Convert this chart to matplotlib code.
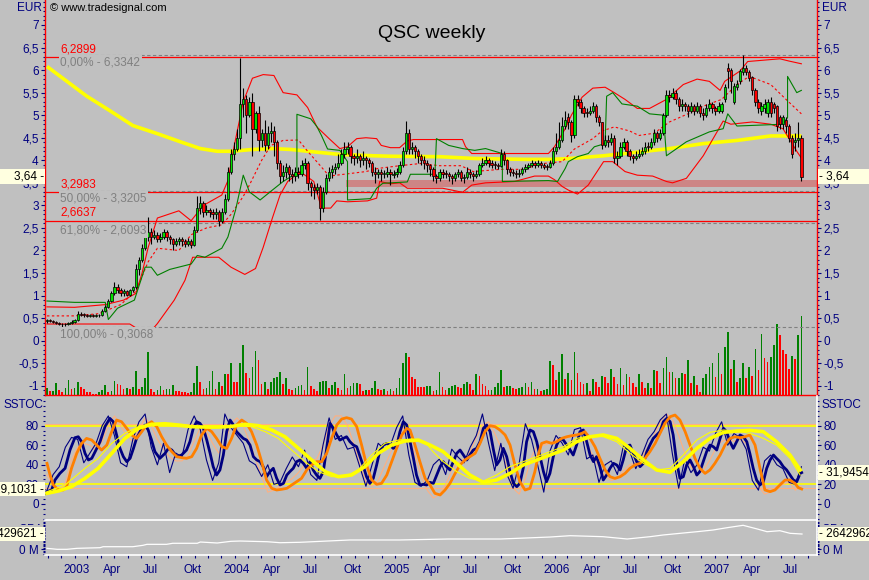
import matplotlib
matplotlib.use("Agg")
import matplotlib.pyplot as plt
import matplotlib.transforms as mtransforms
from matplotlib.ticker import FixedLocator, FuncFormatter
import numpy as np
import pandas as pd

plt.rcParams['font.family'] = ['Liberation Sans', 'DejaVu Sans']

# ---------------- Daten (Wochenkerzen QSC, ab 29.11.2002) ----------------
first_week = '2002-11-29'

opens = [0.43, 0.45, 0.44, 0.42, 0.40, 0.38, 0.36, 0.37, 0.40, 0.42,
         0.45, 0.60, 0.58, 0.57, 0.55, 0.56, 0.55, 0.57, 0.56, 0.66,
         0.75, 0.88, 1.05, 1.20, 1.12, 1.05, 1.10, 1.02, 1.12, 1.18,
         1.60, 1.80, 2.05, 2.30, 2.40, 2.30, 2.35, 2.25, 2.30, 2.40,
         2.30, 2.25, 2.15, 2.20, 2.25, 2.20, 2.15, 2.22, 2.12, 2.45,
         2.95, 3.05, 2.85, 2.90, 2.85, 2.80, 2.85, 2.65, 2.85, 3.15,
         3.75, 4.15, 4.25, 4.50, 5.25, 5.35, 5.00, 5.30, 4.70, 5.05,
         4.45, 4.60, 4.35, 4.60, 4.65, 4.40, 3.95, 3.65, 3.75, 3.85,
         3.70, 3.65, 3.75, 3.70, 3.90, 3.95, 3.50, 3.40, 3.35, 3.40,
         2.95, 3.30, 3.60, 3.75, 3.80, 3.85, 3.95, 4.15, 4.25, 4.30,
         4.10, 4.05, 4.10, 4.00, 4.05, 4.00, 3.95, 3.75, 3.70, 3.75,
         3.70, 3.70, 3.75, 3.68, 3.70, 3.75, 3.90, 4.20, 4.60, 4.25,
         4.30, 4.20, 4.10, 4.00, 3.95, 3.90, 3.80, 3.65, 3.60, 3.75,
         3.72, 3.70, 3.65, 3.60, 3.70, 3.75, 3.60, 3.62, 3.75, 3.70,
         3.65, 3.70, 3.90, 3.95, 4.00, 3.95, 3.92, 3.90, 3.88, 4.15,
         4.00, 3.80, 3.75, 3.72, 3.70, 3.72, 3.80, 3.85, 3.90, 3.95,
         3.90, 3.95, 3.90, 3.87, 3.85, 3.95, 4.20, 4.30, 4.45, 4.75,
         4.95, 4.85, 4.55, 5.35, 5.30, 5.15, 5.07, 5.05, 5.10, 5.20,
         4.95, 4.85, 4.35, 4.45, 4.40, 4.50, 4.05, 4.10, 4.30, 4.40,
         4.20, 4.10, 4.05, 4.10, 4.15, 4.20, 4.32, 4.30, 4.40, 4.60,
         4.50, 4.60, 5.00, 5.45, 5.40, 5.50, 5.35, 5.20, 5.25, 5.20,
         5.10, 5.20, 5.10, 5.20, 5.05, 5.00, 5.15, 5.25, 5.15, 5.10,
         5.10, 5.35, 6.05, 6.00, 5.30, 5.62, 5.75, 5.95, 6.05, 5.95,
         5.85, 5.55, 5.30, 5.10, 5.15, 5.05, 5.30, 5.25, 5.20, 4.95,
         4.80, 4.90, 4.75, 4.50, 4.40, 4.45, 4.50]

highs = [0.49, 0.47, 0.46, 0.44, 0.42, 0.40, 0.40, 0.42, 0.45, 0.48,
         0.66, 0.63, 0.61, 0.60, 0.59, 0.59, 0.60, 0.60, 0.70, 0.80,
         0.93, 1.10, 1.30, 1.25, 1.16, 1.15, 1.12, 1.15, 1.22, 1.70,
         1.85, 2.15, 2.40, 2.75, 2.50, 2.45, 2.40, 2.38, 2.48, 2.45,
         2.35, 2.28, 2.28, 2.30, 2.30, 2.25, 2.28, 2.25, 2.55, 3.20,
         3.20, 3.10, 3.00, 2.95, 2.92, 2.95, 2.90, 2.95, 3.25, 3.85,
         4.25, 4.40, 4.70, 6.27, 5.60, 5.45, 5.40, 5.50, 5.10, 5.20,
         4.70, 4.90, 4.75, 4.85, 4.75, 4.45, 4.00, 3.90, 3.95, 3.90,
         3.80, 3.85, 3.85, 4.00, 4.05, 3.98, 3.55, 3.48, 3.50, 3.45,
         3.40, 3.70, 3.85, 3.90, 3.95, 4.15, 4.25, 4.40, 4.40, 4.35,
         4.15, 4.25, 4.15, 4.20, 4.10, 4.05, 3.98, 3.85, 3.80, 3.80,
         3.78, 3.85, 3.80, 3.78, 3.82, 3.98, 4.30, 4.87, 4.70, 4.40,
         4.35, 4.25, 4.15, 4.10, 4.00, 3.92, 3.85, 3.70, 3.80, 3.80,
         3.78, 3.75, 3.70, 3.75, 3.80, 3.78, 3.70, 3.85, 3.80, 3.75,
         3.78, 3.95, 4.05, 4.10, 4.05, 4.00, 3.98, 3.95, 4.25, 4.20,
         4.02, 3.85, 3.80, 3.78, 3.80, 3.85, 3.92, 3.95, 4.00, 3.98,
         4.00, 3.98, 3.95, 3.92, 4.00, 4.30, 4.60, 4.85, 4.95, 5.10,
         5.05, 4.90, 5.45, 5.45, 5.35, 5.20, 5.15, 5.20, 5.30, 5.25,
         5.00, 4.85, 4.55, 4.55, 4.60, 4.55, 4.20, 4.40, 4.50, 4.45,
         4.25, 4.15, 4.20, 4.25, 4.30, 4.40, 4.40, 4.50, 4.70, 4.65,
         4.70, 5.05, 5.55, 5.55, 5.60, 5.55, 5.40, 5.35, 5.30, 5.25,
         5.30, 5.25, 5.30, 5.25, 5.15, 5.25, 5.35, 5.30, 5.20, 5.30,
         5.30, 5.70, 6.15, 6.05, 5.72, 5.78, 6.02, 6.33, 6.12, 6.00,
         5.88, 5.60, 5.35, 5.30, 5.35, 5.35, 5.40, 5.30, 5.22, 5.00,
         5.00, 4.95, 4.80, 4.55, 4.60, 4.85, 4.55]

lows = [0.40, 0.41, 0.39, 0.37, 0.35, 0.31, 0.33, 0.35, 0.38, 0.40,
        0.44, 0.55, 0.53, 0.52, 0.52, 0.52, 0.53, 0.53, 0.55, 0.64,
        0.72, 0.85, 1.02, 1.05, 0.98, 1.00, 0.98, 1.00, 1.08, 1.15,
        1.45, 1.75, 2.00, 2.20, 2.15, 2.25, 2.18, 2.18, 2.25, 2.20,
        2.15, 2.00, 2.10, 2.12, 2.10, 2.08, 2.10, 2.05, 2.10, 2.40,
        2.80, 2.75, 2.78, 2.75, 2.70, 2.70, 2.55, 2.60, 2.80, 3.10,
        3.70, 4.00, 4.20, 4.25, 4.95, 4.60, 4.95, 4.10, 4.60, 4.20,
        4.30, 4.20, 4.25, 4.40, 4.10, 3.80, 3.50, 3.55, 3.60, 3.55,
        3.50, 3.55, 3.60, 3.65, 3.80, 3.35, 3.20, 3.15, 3.25, 2.68,
        2.85, 3.25, 3.55, 3.60, 3.70, 3.80, 3.90, 4.05, 4.15, 3.95,
        3.90, 3.95, 3.85, 3.90, 3.80, 3.85, 3.65, 3.50, 3.60, 3.55,
        3.60, 3.62, 3.45, 3.60, 3.62, 3.70, 3.85, 4.15, 4.15, 4.15,
        4.05, 3.95, 3.90, 3.80, 3.75, 3.65, 3.55, 3.50, 3.55, 3.60,
        3.60, 3.55, 3.48, 3.55, 3.62, 3.55, 3.50, 3.58, 3.60, 3.55,
        3.60, 3.65, 3.85, 3.90, 3.85, 3.82, 3.80, 3.80, 3.85, 3.90,
        3.70, 3.65, 3.65, 3.60, 3.62, 3.68, 3.75, 3.80, 3.85, 3.82,
        3.85, 3.82, 3.80, 3.78, 3.82, 3.90, 4.15, 4.25, 4.40, 4.70,
        4.70, 4.40, 4.50, 5.20, 5.05, 4.95, 4.95, 5.00, 5.05, 4.85,
        4.75, 4.25, 4.30, 4.30, 4.35, 3.95, 3.90, 4.05, 4.25, 4.10,
        4.00, 3.95, 4.00, 4.05, 4.10, 4.15, 4.20, 4.25, 4.35, 4.40,
        4.45, 4.55, 4.95, 5.30, 5.35, 5.25, 5.10, 5.10, 5.10, 4.95,
        5.05, 5.00, 5.05, 4.95, 4.90, 4.95, 5.10, 5.05, 5.00, 5.05,
        5.05, 5.30, 5.60, 5.50, 5.25, 5.55, 5.70, 5.90, 5.90, 5.75,
        5.45, 5.20, 5.05, 5.00, 5.05, 4.95, 4.95, 5.05, 4.65, 4.70,
        4.70, 4.60, 4.40, 4.05, 4.20, 4.30, 3.53]

closes = [0.45, 0.44, 0.42, 0.40, 0.38, 0.36, 0.37, 0.40, 0.42, 0.45,
          0.60, 0.58, 0.57, 0.55, 0.56, 0.55, 0.57, 0.56, 0.66, 0.75,
          0.88, 1.05, 1.20, 1.12, 1.05, 1.10, 1.02, 1.12, 1.18, 1.60,
          1.80, 2.05, 2.30, 2.40, 2.30, 2.35, 2.25, 2.30, 2.40, 2.30,
          2.25, 2.15, 2.20, 2.25, 2.20, 2.15, 2.22, 2.12, 2.45, 2.95,
          3.05, 2.85, 2.90, 2.85, 2.80, 2.85, 2.65, 2.85, 3.15, 3.75,
          4.15, 4.25, 4.50, 5.25, 5.35, 5.00, 5.30, 4.70, 5.05, 4.45,
          4.60, 4.35, 4.60, 4.65, 4.40, 3.95, 3.65, 3.75, 3.85, 3.70,
          3.65, 3.75, 3.70, 3.90, 3.95, 3.50, 3.40, 3.35, 3.40, 2.95,
          3.30, 3.60, 3.75, 3.80, 3.85, 3.95, 4.15, 4.25, 4.30, 4.10,
          4.05, 4.10, 4.00, 4.05, 4.00, 3.95, 3.75, 3.70, 3.75, 3.70,
          3.70, 3.75, 3.70, 3.70, 3.75, 3.90, 4.20, 4.60, 4.25, 4.30,
          4.20, 4.10, 4.00, 3.95, 3.90, 3.80, 3.65, 3.60, 3.75, 3.70,
          3.70, 3.65, 3.60, 3.70, 3.75, 3.60, 3.62, 3.75, 3.70, 3.65,
          3.70, 3.90, 3.95, 4.00, 3.95, 3.90, 3.90, 3.88, 4.15, 4.00,
          3.80, 3.75, 3.72, 3.70, 3.72, 3.80, 3.85, 3.90, 3.95, 3.90,
          3.95, 3.90, 3.85, 3.85, 3.95, 4.20, 4.30, 4.45, 4.75, 4.90,
          4.85, 4.55, 5.35, 5.30, 5.15, 5.05, 5.05, 5.10, 5.20, 4.95,
          4.85, 4.35, 4.45, 4.40, 4.50, 4.05, 4.10, 4.30, 4.40, 4.20,
          4.10, 4.05, 4.10, 4.15, 4.20, 4.30, 4.30, 4.40, 4.60, 4.50,
          4.60, 5.00, 5.45, 5.40, 5.50, 5.35, 5.20, 5.25, 5.20, 5.10,
          5.20, 5.10, 5.20, 5.05, 5.00, 5.15, 5.25, 5.15, 5.10, 5.20,
          5.25, 5.62, 5.97, 5.75, 5.65, 5.70, 5.97, 6.05, 5.95, 5.82,
          5.55, 5.30, 5.15, 5.20, 5.25, 5.30, 5.05, 5.15, 4.75, 4.80,
          4.95, 4.75, 4.50, 4.15, 4.45, 4.50, 3.64]

# Wochenumsatz (Mio. Stueck)
volumes = [2.1, 1.2, 1.3, 3.7, 1.5, 1.0, 2.1, 4.6, 1.8, 2.0,
           4.0, 2.5, 1.8, 1.0, 0.8, 0.4, 0.3, 1.0, 1.4, 3.1,
           1.0, 1.2, 4.3, 3.2, 3.0, 1.7, 2.0, 1.7, 2.3, 7.3,
           1.7, 2.3, 5.2, 13.0, 1.9, 1.0, 1.6, 2.8, 1.5, 1.7,
           1.7, 3.1, 1.3, 1.1, 1.0, 0.8, 0.7, 0.8, 3.7, 8.8,
           4.0, 1.7, 2.1, 4.1, 7.2, 1.9, 4.0, 2.7, 6.3, 6.2,
           9.5, 4.0, 3.8, 9.5, 15.1, 6.5, 5.0, 8.4, 13.2, 10.6,
           3.3, 4.0, 1.7, 4.0, 5.2, 5.5, 7.0, 3.3, 5.0, 1.7,
           1.5, 2.0, 2.8, 3.0, 1.4, 8.5, 2.7, 1.8, 1.3, 4.0,
           4.1, 4.2, 2.0, 3.0, 4.0, 2.0, 1.4, 6.2, 2.2, 2.8,
           3.5, 3.6, 3.4, 1.3, 1.5, 1.4, 2.0, 4.2, 1.8, 1.4,
           1.8, 1.3, 1.8, 1.3, 2.0, 5.0, 9.5, 12.7, 11.5, 5.4,
           4.8, 2.5, 2.4, 2.3, 2.8,
           2.8, 1.3, 1.6, 7.0, 2.5, 1.6, 2.2, 2.8, 3.1, 2.5,
           2.2, 3.4, 4.0, 3.4, 1.6, 6.4, 5.8, 3.4, 2.8, 1.6,
           1.6, 2.5, 3.7, 7.6, 2.5, 2.8, 2.8, 2.2, 1.9, 2.2,
           2.5, 3.7, 2.5, 4.0, 1.9, 1.9, 1.3, 1.6, 1.9, 10.3,
           9.1, 4.6, 7.0, 12.4, 4.9, 6.7, 4.6, 13.0, 6.7, 4.0,
           3.4, 3.7, 1.3, 4.9, 4.0, 2.5, 5.8, 5.5, 3.7, 7.9,
           5.5, 3.4, 8.2, 3.1, 6.4, 5.5, 3.7, 2.5, 6.4, 4.0,
           2.2, 3.7, 2.2, 7.6, 7.3, 3.7, 8.2, 11.5, 7.0, 7.0,
           5.2, 5.2, 6.7, 6.4, 10.6, 3.7, 5.8, 3.1, 1.0, 5.2,
           6.4, 8.5, 9.7, 5.5, 12.7, 6.4, 14.5, 19.0, 7.9, 10.6,
           4.0, 5.2, 9.7, 5.2, 8.5, 5.8, 13.9, 7.6, 18.4, 11.2,
           10.0, 11.5, 15.1, 21.4, 18.1, 13.6, 12.4, 7.9, 11.8, 10.9,
           18.1, 23.8]

# Bollinger-Baender (Woche, EUR)
bb_upper = [(0, 0.75), (9, 0.74), (19, 0.80), (25, 0.90), (29, 1.05), (31, 1.50),
            (33, 2.07), (36, 2.72), (43, 2.88), (47, 2.66), (51, 3.00), (57, 3.23),
            (59, 3.55), (61, 4.30), (64, 5.30), (67, 5.82), (70.5, 5.90), (74, 5.88),
            (77, 5.50), (81.5, 5.45), (85, 5.17), (88, 4.74), (92, 4.48), (95.5, 4.26),
            (98, 4.30), (101, 4.48), (104, 4.50), (107.5, 4.48), (109, 4.33), (112, 4.28),
            (115, 4.28), (117.5, 4.43), (119.5, 4.46), (135.5, 4.46), (136.5, 4.30),
            (138.5, 4.15), (163.5, 4.15), (165.5, 4.30), (169, 4.70), (171, 5.00),
            (174.5, 5.40), (178, 5.60), (182, 5.62), (185, 5.50), (188.5, 5.35),
            (192.5, 5.15), (196.5, 5.15), (202, 5.35), (207.5, 5.68), (212, 5.80),
            (216, 5.75), (219.5, 5.55), (221, 5.75), (226, 5.98), (228.5, 6.19),
            (239, 6.25), (242, 6.20), (246, 6.14)]
bb_middle = [(0, 0.55), (9, 0.55), (17, 0.60), (24, 0.80), (29, 1.10), (33, 1.75),
             (36, 2.05), (43, 2.00), (47, 2.35), (52, 2.50), (57, 2.57), (60, 2.80),
             (64, 3.20), (66, 3.45), (70, 4.00), (73, 4.33), (77, 4.44), (82, 4.45),
             (85, 4.20), (89, 3.89), (92, 3.65), (98, 3.70), (104, 3.75), (108, 3.82),
             (115, 3.88), (122, 3.93), (128, 3.88), (135, 3.88), (139, 3.75), (148, 3.80),
             (155, 3.80), (162, 3.93), (168, 3.97), (172, 4.25), (178, 4.48), (181, 4.65),
             (185, 4.74), (190, 4.65), (193, 4.55), (198, 4.60), (203, 4.85), (209, 5.03),
             (214, 5.20), (220, 5.35), (225, 5.68), (229, 5.86), (236, 5.68), (241, 5.35),
             (246, 5.03)]
bb_lower = [(0, 0.37), (17, 0.37), (27, 0.37), (31, 0.20), (34, 0.22), (36, 0.38),
            (41.5, 0.90), (45, 1.34), (47.5, 1.85), (50.5, 1.85), (56, 1.85), (60, 1.63),
            (64.5, 1.47), (68, 1.60), (70.5, 2.07), (73.5, 2.72), (76, 3.23), (78.5, 3.53),
            (82.5, 3.75), (87, 3.53), (89.5, 2.94), (92.5, 2.94), (94.5, 3.10), (98, 3.08),
            (104.5, 3.10), (107.5, 3.16), (108.5, 3.53), (112, 3.48), (115, 3.50),
            (117.5, 3.38), (125, 3.38), (129, 3.38), (132, 3.34), (135.5, 3.29),
            (138.5, 3.45), (143, 3.50), (152.5, 3.53), (159, 3.65), (163.5, 3.65),
            (165.5, 3.57), (168, 3.42), (170, 3.34), (173, 3.25), (176.5, 3.45),
            (181.5, 3.97), (184.5, 3.97), (188.5, 3.75), (192.5, 3.67), (197.5, 3.65),
            (202, 3.53), (204, 3.50), (208.5, 3.60), (214, 4.10), (218.5, 4.63),
            (220.5, 4.87), (223, 4.80), (230, 4.85), (236, 4.80), (240, 4.70),
            (242, 4.48), (244.5, 4.20), (246, 4.05)]

# gruene Stop-Linie (Woche, EUR)
stop_line = [(0, 0.88), (9, 0.85), (19, 0.85), (20, 0.47), (23, 0.72), (28.5, 0.90),
             (32, 1.63), (34, 1.63), (36, 1.45), (40, 1.58), (47, 1.70), (49, 1.89),
             (51.5, 1.85), (57, 2.05), (59, 2.30), (61.5, 2.90), (64, 3.67), (66, 3.30),
             (69.5, 3.12), (73.5, 3.34), (77, 3.53), (81.5, 3.72), (81.5, 5.02),
             (86, 4.92), (88, 4.75), (89.5, 4.55), (91.5, 4.25), (95.5, 4.22),
             (98, 3.97), (98, 3.12), (105.5, 3.15), (107.5, 3.38), (109.5, 3.49),
             (117.5, 3.52), (118.5, 3.69), (126.5, 3.69), (127, 4.48), (131, 4.33),
             (135.5, 4.26), (139.5, 4.22), (143, 4.26), (148.5, 4.15), (148.5, 3.53),
             (163.5, 3.55), (166.5, 3.53), (169, 3.82), (170, 3.97), (173, 4.08),
             (176.5, 4.15), (178.5, 4.30), (182, 4.37), (182.5, 5.42), (184.5, 5.50),
             (187.5, 5.25), (192.5, 5.20), (196.5, 5.03), (201, 5.00), (202, 4.10),
             (208.5, 4.41), (216, 4.63), (220.5, 4.70), (222, 5.03), (225, 4.76),
             (240, 4.80), (241.5, 4.95), (241.5, 5.86), (244.5, 5.50), (246, 5.55)]

# gleitender Durchschnitt, lang (Woche, EUR)
ma_long = [(0, 6.08), (6.5, 5.75), (13, 5.42), (20.5, 5.10), (28, 4.77), (36, 4.59),
           (43.5, 4.41), (50, 4.26), (55.5, 4.20), (60.5, 4.20), (67, 4.24), (73.5, 4.26),
           (79.5, 4.24), (85, 4.20), (95.5, 4.13), (106.5, 4.10), (112, 4.09),
           (128, 4.08), (139.5, 4.04), (156, 4.02), (164.5, 4.02), (170.5, 4.04),
           (181.5, 4.10), (192.5, 4.18), (203, 4.26), (214, 4.37), (225, 4.44),
           (236, 4.54), (246, 4.54)]

# Kursmarken
red_levels = [6.2899, 3.2983, 2.6637]
fib_levels = [6.3342, 3.3205, 2.6093, 0.3068]
fib_names = ['0,00%', '50,00%', '61,80%', '100,00%']
zone_start_week = 97.5
zone_low, zone_high = 3.40, 3.56
last_price = 3.64

# Slow Stochastik (Woche, Wert)
stoch_k = [(0, 12.5), (1.5, 14.2), (2.6, 24.4), (4.2, 31.2), (5.9, 36.4), (7.5, 55.1),
           (9.1, 67.7), (10.2, 68.7), (11.3, 63.6), (12.4, 51.7), (13.5, 44.9), (14.6, 46.6),
           (15.7, 53.4), (17.3, 63.6), (18.9, 79.0), (20.5, 87.5), (21.6, 84.1), (22.7, 70.5),
           (23.8, 56.8), (24.9, 48.3), (26, 43.2), (27.1, 46.6), (28.2, 56.8), (29.2, 67.0),
           (30.9, 77.3), (32, 80.7), (33, 75.6), (34.1, 65.3), (35.2, 53.4), (36.8, 46.6),
           (38.5, 51.7), (39.6, 56.8), (40.7, 55.1), (42.3, 48.3), (43.9, 50.0), (45.5, 55.1),
           (46.6, 63.6), (47.7, 77.3), (48.8, 84.1), (49.9, 82.4), (51, 77.3), (52.1, 65.3),
           (53.2, 51.7), (54.2, 38.1), (55.3, 29.5), (56.4, 34.7), (57.5, 50.0), (58.6, 73.9),
           (59.7, 85.8), (60.8, 80.7), (61.8, 73.9), (62.9, 70.5), (64, 67.0), (65.1, 65.3),
           (66.2, 60.2), (67.3, 48.3), (68.4, 44.9), (69.5, 43.2), (70.5, 38.1), (71.6, 27.8),
           (72.7, 33.0), (73.8, 36.4), (74.9, 26.1), (76, 19.3), (77.1, 21.0), (78.2, 29.5),
           (79.2, 33.0), (80.3, 36.4), (81.4, 43.2), (82.5, 44.9), (83.6, 41.5), (84.7, 36.4),
           (85.8, 43.2), (86.8, 34.7), (87.9, 29.5), (89, 26.1), (90.1, 33.0), (91.2, 56.8),
           (92.3, 82.4), (93.4, 77.3), (94.5, 70.5), (95.5, 65.3), (96.6, 67.0), (97.7, 68.7),
           (98.8, 63.6), (99.9, 60.2), (101, 58.5), (102.1, 48.3), (103.2, 38.1), (104.2, 27.8),
           (105.3, 21.0), (106.4, 26.1), (107.5, 39.8), (108.6, 55.1), (109.7, 60.2),
           (110.8, 61.9), (111.8, 60.2), (112.9, 56.8), (114, 58.5), (115.1, 73.9),
           (116.2, 84.1), (117.3, 80.7), (118.4, 63.6), (119.5, 46.6), (120.5, 29.5),
           (121.6, 19.3), (122.7, 20.0), (123.8, 19.3), (124.9, 22.0), (126, 21.0),
           (127.1, 29.5), (128.2, 38.1), (129.2, 43.2), (130.3, 38.1), (131.4, 34.7),
           (132.5, 43.2), (133.6, 51.7), (134.7, 55.1), (135.8, 50.0), (136.9, 44.9),
           (137.9, 50.0), (139, 55.1), (140.1, 56.8), (141.2, 63.6), (142.3, 77.3),
           (143.4, 80.7), (144.5, 73.9), (145.6, 55.1), (146.6, 39.8), (147.7, 44.9),
           (148.8, 56.8), (149.9, 48.3), (151, 33.0), (152.1, 21.0), (153.2, 17.6),
           (154.2, 21.0), (155.3, 36.4), (156.4, 63.6), (157.5, 75.6), (158.6, 73.9),
           (159.7, 63.6), (160.8, 48.3), (161.9, 33.0), (162.9, 22.7), (164, 31.2),
           (165.1, 48.3), (166.2, 60.2), (167.3, 67.0), (168.4, 65.3), (169.5, 60.2),
           (170.6, 55.1), (171.6, 50.0), (172.7, 60.2), (173.8, 73.9), (174.9, 75.6),
           (176, 63.6), (177.1, 50.0), (178.2, 43.2), (179.2, 48.3), (180.3, 38.1),
           (181.4, 24.4), (182.5, 29.5), (183.6, 36.4), (184.7, 41.5), (185.8, 39.8),
           (186.9, 34.7), (187.9, 44.9), (189, 58.5), (190.1, 60.2), (191.2, 51.7),
           (192.3, 43.2), (193.4, 38.1), (194.5, 41.5), (195.6, 53.4), (196.6, 60.2),
           (197.7, 67.0), (198.8, 70.5), (199.9, 73.9), (201, 84.1), (202.1, 87.5),
           (203.2, 84.1), (204.2, 70.5), (205.3, 43.2), (206.4, 26.1), (207.5, 27.8),
           (208.6, 39.8), (209.7, 44.9), (210.8, 38.1), (211.9, 29.5), (212.9, 33.0),
           (214, 43.2), (215.1, 53.4), (216.2, 60.2), (217.3, 58.5), (218.4, 55.1),
           (219.5, 67.0), (220.6, 77.3), (221.6, 73.9), (222.7, 63.6), (223.8, 56.8),
           (224.9, 63.6), (226, 70.5), (227.1, 68.7), (228.2, 63.6), (229.2, 51.7),
           (230.3, 36.4), (231.4, 24.4), (232.5, 19.3), (233.6, 22.7), (234.7, 36.4),
           (235.8, 44.9), (236.9, 50.0), (237.9, 46.6), (239, 43.2), (240.1, 38.1),
           (241.2, 34.7), (242.3, 29.5), (243.4, 24.4), (244.5, 22.7), (245.6, 31.2),
           (246.1, 32.0)]

stoch_k_fast = [(0, 14), (2, 30), (4, 38), (6, 58), (8, 68), (10, 66), (12, 42), (14, 52),
                (16, 62), (18, 80), (20, 90), (22, 70), (24, 42), (26, 38), (28, 66), (30, 84),
                (32, 92), (34, 58), (36, 40), (38, 62), (40, 32), (42, 52), (44, 48), (46, 76),
                (48, 90), (50, 76), (52, 45), (54, 24), (56, 42), (58, 92), (60, 78), (62, 70),
                (64, 62), (66, 44), (68, 40), (70, 28), (72, 40), (74, 20), (76, 22), (78, 36),
                (80, 48), (82, 38), (84, 55), (86, 30), (88, 24), (90, 60), (92, 88), (94, 66),
                (96, 70), (98, 56), (100, 58), (102, 38), (104, 18), (106, 40), (108, 62),
                (110, 56), (112, 60), (114, 78), (116, 90), (118, 50), (120, 22), (122, 18),
                (124, 24), (126, 40), (128, 46), (130, 30), (132, 56), (134, 48), (136, 42),
                (138, 58), (140, 70), (142, 92), (144, 62), (146, 34), (148, 62), (150, 30),
                (152, 16), (154, 42), (156, 82), (158, 66), (160, 40), (162, 12), (164, 54),
                (166, 70), (168, 62), (170, 50), (172, 76), (174, 78), (176, 46), (178, 50),
                (180, 22), (182, 40), (184, 44), (186, 30), (188, 60), (190, 54), (192, 36),
                (194, 50), (196, 66), (198, 74), (200, 86), (202, 92), (204, 50), (206, 16),
                (208, 46), (210, 32), (212, 40), (214, 58), (216, 54), (218, 72), (220, 84),
                (222, 60), (224, 72), (226, 68), (228, 56), (230, 24), (232, 14), (234, 44),
                (236, 50), (238, 40), (240, 36), (242, 22), (244, 20), (246, 38)]

stoch_d = [(0, 41.5), (1, 29.5), (2.1, 19.3), (3.7, 14.2), (5.3, 14.2), (6.4, 17.6),
           (8, 36.4), (9.7, 51.7), (11.3, 61.9), (12.9, 67.0), (14.6, 65.3), (16.2, 60.2),
           (17.8, 55.1), (19.5, 60.2), (21.1, 73.9), (22.7, 85.8), (24.3, 84.1), (26, 77.3),
           (27.6, 70.5), (29.2, 67.0), (30.9, 73.9), (32.5, 80.7), (34.1, 84.1), (35.8, 79.0),
           (37.4, 68.7), (39, 60.2), (40.7, 53.4), (42.3, 48.3), (43.9, 47.3), (45.5, 46.6),
           (47.2, 48.3), (48.8, 56.8), (50.4, 70.5), (52.1, 77.3), (53.7, 73.9), (55.3, 67.0),
           (57, 58.5), (58.6, 56.8), (60.2, 67.0), (61.8, 80.7), (63.5, 85.8), (65.1, 82.4),
           (66.7, 73.9), (68.4, 60.2), (70, 43.2), (71.6, 24.4), (73.3, 15.9), (74.9, 14.2),
           (76.5, 14.9), (78.2, 15.9), (79.8, 19.3), (81.4, 22.7), (83, 26.1), (84.7, 34.7),
           (86.3, 39.8), (87.9, 43.2), (89.6, 43.2), (91.2, 51.7), (92.8, 67.0), (94.5, 80.7),
           (96.1, 86.8), (97.7, 88.2), (99.3, 86.8), (101, 79.0), (102.6, 60.2), (104.2, 39.8),
           (105.9, 24.4), (107.5, 20.0), (109.1, 21.0), (110.8, 29.5), (112.4, 43.2),
           (114, 56.8), (115.7, 70.5), (117.3, 77.3), (118.4, 75.6), (120, 60.2),
           (121.6, 43.2), (123.3, 26.1), (124.9, 19.3), (126.5, 10.8), (128.2, 9.1),
           (129.8, 14.2), (131.4, 21.0), (133.1, 31.2), (134.7, 39.8), (136.3, 44.9),
           (137.9, 48.3), (139.6, 51.7), (141.2, 61.9), (142.8, 73.9), (144.5, 80.0),
           (146.1, 79.0), (147.7, 75.6), (149.4, 70.5), (151, 60.2), (152.6, 39.8),
           (154.2, 22.7), (155.9, 14.2), (157.5, 15.9), (159.1, 33.0), (160.2, 50.0),
           (161.3, 61.9), (162.9, 63.6), (164.6, 61.9), (166.2, 63.6), (167.8, 67.0),
           (169.5, 68.7), (171.1, 69.8), (172.7, 70.5), (174.4, 72.2), (175.4, 73.9),
           (177.1, 67.0), (178.7, 58.5), (180.3, 46.6), (182, 34.7), (183.6, 27.8),
           (185.2, 26.1), (186.9, 27.8), (188.5, 31.2), (190.1, 36.4), (191.7, 39.8),
           (193.4, 41.5), (195, 46.6), (196.6, 53.4), (198.3, 61.9), (199.9, 72.2),
           (201.5, 82.4), (203.2, 89.2), (204.8, 90.9), (206.4, 85.8), (208.1, 73.9),
           (209.7, 60.2), (211.3, 46.6), (212.9, 36.4), (214.6, 31.2), (216.2, 34.7),
           (217.8, 41.5), (219.5, 50.0), (221.1, 60.2), (222.7, 67.0), (224.4, 68.7),
           (226, 67.7), (227.6, 68.7), (229.2, 70.5), (230.9, 60.2), (232.5, 36.4),
           (234.1, 14.2), (235.8, 12.5), (237.4, 14.2), (239, 19.3), (240.7, 24.4),
           (242.3, 24.4), (243.9, 21.0), (245, 16.6), (246.1, 15.2)]

stoch_d_fast = [(0, 30), (2, 18), (4, 12), (6, 22), (8, 45), (10, 58), (12, 62), (14, 60),
                (16, 55), (18, 64), (20, 80), (22, 90), (24, 80), (26, 70), (28, 64), (30, 76),
                (32, 88), (34, 80), (36, 66), (38, 56), (40, 48), (42, 44), (44, 44), (46, 50),
                (48, 64), (50, 78), (52, 74), (54, 62), (56, 52), (58, 62), (60, 82), (62, 88),
                (64, 80), (66, 64), (68, 46), (70, 28), (72, 12), (74, 14), (76, 18), (78, 22),
                (80, 26), (82, 32), (84, 40), (86, 44), (88, 46), (90, 60), (92, 80), (94, 90),
                (96, 90), (98, 80), (100, 62), (102, 40), (104, 22), (106, 18), (108, 24),
                (110, 38), (112, 52), (114, 66), (116, 78), (118, 70), (120, 50), (122, 28),
                (124, 14), (126, 6), (128, 10), (130, 20), (132, 34), (134, 42), (136, 46),
                (138, 54), (140, 68), (142, 80), (144, 84), (146, 72), (148, 58), (150, 36),
                (152, 16), (154, 10), (156, 26), (158, 48), (160, 60), (162, 60), (164, 62),
                (166, 66), (168, 66), (170, 68), (172, 70), (174, 70), (176, 62), (178, 50),
                (180, 38), (182, 28), (184, 24), (186, 26), (188, 34), (190, 40), (192, 42),
                (194, 48), (196, 58), (198, 70), (200, 84), (202, 92), (204, 86), (206, 70),
                (208, 52), (210, 38), (212, 30), (214, 34), (216, 44), (218, 56), (220, 64),
                (222, 66), (224, 64), (226, 66), (228, 62), (230, 40), (232, 18), (234, 10),
                (236, 12), (238, 18), (240, 20), (242, 22), (244, 14), (246, 18)]

stoch_signal = [(0, 10.8), (3.7, 13.2), (8, 17.6), (12.4, 26.1), (16.7, 36.4), (21.1, 51.7),
                (25.4, 67.0), (29.8, 77.3), (34.1, 81.4), (38.5, 82.0), (42.8, 80.7),
                (47.2, 79.0), (51.5, 78.6), (55.9, 78.6), (60.2, 79.3), (64.6, 81.4), (68.9, 80.0),
                (73.3, 75.6), (77.6, 68.7), (82, 56.8), (86.3, 44.9), (90.7, 33.0), (95, 27.8),
                (99.3, 29.5), (103.7, 38.1), (108, 51.7), (112.4, 60.2), (116.7, 64.3),
                (121.1, 65.3), (124.9, 60.2), (129.2, 53.4), (133.6, 41.5), (137.9, 29.5),
                (142.3, 22.0), (146.6, 24.4), (151, 31.2), (155.3, 39.8), (159.7, 44.9),
                (164, 50.0), (168.4, 55.1), (172.7, 63.6), (177.1, 68.7), (181.4, 70.5),
                (185.8, 67.0), (190.1, 56.8), (194.5, 44.9), (198.8, 34.7), (203.2, 32.3),
                (207.5, 43.2), (211.9, 56.8), (216.2, 67.0), (220.6, 73.2), (224.9, 74.5),
                (229.2, 75.2), (233.6, 73.9), (237.9, 63.6), (242.3, 50.0), (245.6, 34.7)]

stoch_signal_fast = [(0, 12.5), (5.9, 19.3), (12.4, 36.4), (16.7, 46.6), (21.1, 61.9),
                     (25.4, 72.2), (29.8, 79.0), (34.1, 82.4), (42.8, 79.0), (51.5, 78.6),
                     (60.2, 80.0), (66.7, 79.0), (71.1, 73.9), (75.4, 67.0), (79.8, 55.1),
                     (84.1, 43.2), (88.5, 33.0), (92.8, 27.8), (97.2, 27.8), (101.5, 34.7),
                     (105.9, 50.0), (110.2, 61.9), (114.6, 65.3), (118.9, 66.4), (123.3, 63.6),
                     (126, 53.0), (129.2, 43.2), (133.6, 33.0), (137.9, 26.1), (142.3, 23.4),
                     (146.6, 29.5), (151, 38.1), (155.3, 43.2), (159.7, 48.3), (164, 53.4),
                     (168.4, 58.5), (172.7, 67.0), (177.1, 69.8), (181.4, 68.7), (185.8, 63.6),
                     (190.1, 51.7), (194.5, 41.5), (198.8, 34.7), (203.2, 36.4), (207.5, 50.0),
                     (211.9, 65.3), (216.2, 73.2), (220.6, 75.6), (224.9, 74.5), (229.2, 72.2),
                     (233.6, 67.0), (237.9, 60.2), (242.3, 46.6), (245.6, 29.5)]
stoch_first_label = 19.1031
stoch_last_label = 31.9454

# On-Balance-Volume (Woche, Mio.)
obv = [(0, 1.7), (3.3, 0.0), (6.5, 0.0), (9.8, 1.7), (17.3, 2.8), (18.3, 4.5), (28, 4.5),
       (31.3, 6.9), (32.6, 8.6), (39, 8.6), (41, 10.4), (49, 10.4), (50, 12.6), (55.5, 10.9),
       (60, 13.8), (63, 14.3), (71.8, 13.1), (76, 11.4), (82.5, 12.1), (98.8, 16.1),
       (115, 16.1), (131, 17.8), (148, 17.8), (164, 21.2), (170.6, 23.5), (181.3, 21.8),
       (189.2, 17.8), (196.7, 21.8), (200.9, 24.7), (206.5, 27.6), (212, 30.4), (217.2, 33.3),
       (221.8, 37.3), (227, 41.4), (231.6, 35.1), (234.8, 30.4), (239, 32.1), (242.3, 27.6),
       (246.2, 26.4)]
obv_last_label = '26429621'

# ---------------- Farben ----------------
bg = '#c0c0c0'
navy = '#000080'
pale = '#ffffe0'

weeks = np.arange(len(closes))
o = np.array(opens)
c = np.array(closes)
h = np.array(highs)
l = np.array(lows)
up = c >= o

t0 = pd.Timestamp(first_week)
x_left, x_right = -0.65, 251.1

fig = plt.figure(figsize=(8.7, 5.8), dpi=100, facecolor=bg)
W, H = 870.0, 580.0
ax = fig.add_axes([45 / W, 1 - 395 / H, 772 / W, 395 / H])
ax_st = fig.add_axes([45 / W, 1 - 519.5 / H, 772 / W, 123.5 / H], sharex=ax)
ax_obv = fig.add_axes([45 / W, 1 - 555 / H, 772 / W, 34.5 / H], sharex=ax)
for a in (ax, ax_st, ax_obv):
    a.set_facecolor('none')

comma = FuncFormatter(lambda v, p: ('%g' % v).replace('.', ','))

# ---------- Hauptchart ----------
vol_ax = ax.twinx()
vol_ax.set_zorder(ax.get_zorder() - 1)
ax.patch.set_visible(False)
vol = np.array(volumes)
vol_up = np.concatenate([[True], vol[1:] >= vol[:-1]])
vol_ax.bar(weeks, vol, width=0.55, color=np.where(vol_up, '#008000', '#ff0000'), linewidth=0)
vol_ax.set_ylim(0, 119)
vol_ax.axis('off')

ax.fill_between([zone_start_week, x_right], zone_low, zone_high, color='#cd8585', lw=0, zorder=1)

for lv in red_levels:
    ax.axhline(lv, color='#ff0000', lw=0.9, zorder=2)
for lv in fib_levels:
    ax.hlines(lv, 4.3, x_right, color='#808080', lw=0.8, linestyles=(0, (3, 2.2)), zorder=2)

ax.plot(*zip(*ma_long), color='#ffff00', lw=2.6, zorder=3, solid_capstyle='butt')
ax.plot(*zip(*bb_upper), color='#ff0000', lw=0.8, zorder=3)
ax.plot(*zip(*bb_lower), color='#ff0000', lw=0.8, zorder=3)
ax.plot(*zip(*bb_middle), color='#ff0000', lw=0.8, ls=(0, (2.2, 2.2)), zorder=3)
ax.plot(*zip(*stop_line), color='#008000', lw=0.8, zorder=3)

ax.vlines(weeks, l, h, color='black', lw=0.8, zorder=4)
body_lo = np.minimum(o, c)
body_h = np.maximum(np.abs(c - o), 0.02)
ax.bar(weeks, body_h, bottom=body_lo, width=0.75, color=np.where(up, '#00e000', '#ff0000'),
       edgecolor='black', linewidth=0.5, zorder=5)

for lv in red_levels:
    ax.text(4.4, lv + 0.04, ('%.4f' % lv).replace('.', ','), color='#ff0000', fontsize=8.5,
            ha='left', va='bottom', zorder=6)
for lv, nm in zip(fib_levels, fib_names):
    ax.text(4.4, lv - 0.03, '%s - %s' % (nm, ('%.4f' % lv).replace('.', ',')), color='#808080',
            fontsize=8.5, ha='left', va='top', zorder=6,
            bbox=dict(boxstyle='square,pad=0.12', fc=bg, ec='none'))

ax.set_xlim(x_left, x_right)
ax.set_ylim(-1.204, 7.554)
ax.yaxis.set_major_locator(FixedLocator(np.arange(-1, 7.01, 0.5)))
ax.yaxis.set_minor_locator(FixedLocator(np.arange(-1.2, 7.55, 0.1)))
ax.yaxis.set_major_formatter(comma)
ax.tick_params(axis='y', which='both', left=True, right=True, labelleft=True, labelright=True,
               colors=navy, labelsize=8.5, direction='out')
ax.tick_params(axis='y', which='major', length=3, width=0.8, pad=1.5)
ax.tick_params(axis='y', which='minor', length=1.2, width=0.8)
ax.tick_params(axis='x', which='both', bottom=False, labelbottom=False)
for s in ('left', 'right', 'bottom'):
    ax.spines[s].set_color('#ff0000')
    ax.spines[s].set_linewidth(1.0)
ax.spines['top'].set_visible(False)

# ---------- Stochastik ----------
ax_st.axhline(82, color='#ffb080', lw=0.8)
ax_st.axhline(16, color='#ffb080', lw=0.8)
ax_st.axhline(80, color='#ffff00', lw=1.2)
ax_st.axhline(20, color='#ffff00', lw=1.2)
ax_st.plot(*zip(*stoch_d_fast), color='#ffb080', lw=0.8)
ax_st.plot(*zip(*stoch_k_fast), color=navy, lw=0.8)
ax_st.plot(*zip(*stoch_k), color=navy, lw=2.0)
ax_st.plot(*zip(*stoch_d), color='#ff8000', lw=2.0)
ax_st.plot(*zip(*stoch_signal_fast), color='#ffff00', lw=0.8)
ax_st.plot(*zip(*stoch_signal), color='#ffff00', lw=2.6)
ax_st.set_ylim(-16, 110.4)
ax_st.yaxis.set_major_locator(FixedLocator([0, 20, 40, 60, 80]))
ax_st.yaxis.set_minor_locator(FixedLocator(np.arange(-15, 106, 5)))
ax_st.tick_params(axis='y', which='both', left=True, right=True, labelleft=True, labelright=True,
                  colors=navy, labelsize=8.5, direction='out')
ax_st.tick_params(axis='y', which='major', length=3, width=0.8, pad=1.5)
ax_st.tick_params(axis='y', which='minor', length=1.2, width=0.8)
ax_st.tick_params(axis='x', which='both', bottom=False, labelbottom=False)
ax_st.spines['left'].set_visible(False)
ax_st.spines['top'].set_visible(False)
for s in ('right', 'bottom'):
    ax_st.spines[s].set_color('white')
    ax_st.spines[s].set_linewidth(1.2)

# ---------- OBV ----------
ax_obv.plot(*zip(*obv), color='white', lw=0.9)
ax_obv.set_ylim(-9.8, 49.7)
ax_obv.yaxis.set_major_locator(FixedLocator([0]))
ax_obv.yaxis.set_major_formatter(FuncFormatter(lambda v, p: '0 M'))
ax_obv.yaxis.set_minor_locator(FixedLocator(np.arange(-7.5, 48, 2.5)))
ax_obv.tick_params(axis='y', which='both', left=True, right=True, labelleft=True, labelright=True,
                   colors=navy, labelsize=8.5, direction='out')
ax_obv.tick_params(axis='y', which='major', length=3, width=0.8, pad=1.5)
ax_obv.tick_params(axis='y', which='minor', length=1.2, width=0.8)
ax_obv.spines['left'].set_visible(False)
ax_obv.spines['top'].set_visible(False)
for s in ('right', 'bottom'):
    ax_obv.spines[s].set_color('white')
    ax_obv.spines[s].set_linewidth(1.2)

# Zeitachse
months = pd.date_range('2002-12-01', '2007-09-01', freq='MS')
month_pos = [(m - t0).days / 7.0 for m in months]
q_months = [m for m in months if m.month in (1, 4, 7, 10)]
q_pos = [(m - t0).days / 7.0 for m in q_months]
mnames = {4: 'Apr', 7: 'Jul', 10: 'Okt'}
q_labels = [str(m.year) if m.month == 1 else mnames[m.month] for m in q_months]
ax_obv.xaxis.set_major_locator(FixedLocator(q_pos))
ax_obv.xaxis.set_minor_locator(FixedLocator(month_pos))
ax_obv.set_xticklabels(q_labels)
ax_obv.tick_params(axis='x', which='both', colors=navy, labelsize=8.5, length=2.5, width=0.8,
                   direction='out', pad=4)
shift = mtransforms.ScaledTranslation(1.5 / 72, 0, fig.dpi_scale_trans)
for lbl in ax_obv.get_xticklabels():
    lbl.set_horizontalalignment('left')
    lbl.set_transform(lbl.get_transform() + shift)
ax_obv.set_xlim(x_left, x_right)

# ---------- Beschriftungen ----------
fig.text(432 / W, 1 - 33 / H, 'QSC weekly', ha='center', va='center', fontsize=14, color='black')
fig.text(50 / W, 1 - 8 / H, '\u00a9 www.tradesignal.com', ha='left', va='center', fontsize=8,
         color='black')
fig.text(42 / W, 1 - 8 / H, 'EUR', ha='right', va='center', fontsize=8.5, color=navy)
fig.text(822 / W, 1 - 8 / H, 'EUR', ha='left', va='center', fontsize=8.5, color=navy)
fig.text(43 / W, 1 - 405 / H, 'SSTOC', ha='right', va='center', fontsize=8.5, color=navy)
fig.text(822 / W, 1 - 405 / H, 'SSTOC', ha='left', va='center', fontsize=8.5, color=navy)

clip = mtransforms.TransformedBbox(mtransforms.Bbox([[0, 0], [1, 1 - 523.5 / H]]), fig.transFigure)
for xx, ha in ((43 / W, 'right'), (822 / W, 'left')):
    t = fig.text(xx, 1 - 522 / H, 'OBV', ha=ha, va='center', fontsize=8.5, color=navy)
    t.set_clip_box(clip)
    t.set_clip_on(True)

box = dict(boxstyle='square,pad=0.1', fc=pale, ec='none')
price_txt = ('%.2f' % last_price).replace('.', ',')
lt = mtransforms.blended_transform_factory(fig.transFigure, ax.transData)
ax.text(44 / W, last_price, '    ' + price_txt + ' -', transform=lt,
        ha='right', va='center', fontsize=8.5, color='black', bbox=box, clip_on=False, zorder=10)
ax.text(819 / W, last_price, '- ' + price_txt + '      ', transform=lt,
        ha='left', va='center', fontsize=8.5, color='black', bbox=box, clip_on=False, zorder=10)
st_t = mtransforms.blended_transform_factory(fig.transFigure, ax_st.transData)
ax_st.text(44 / W, 15, ('%.4f' % stoch_first_label).replace('.', ',') + ' -', transform=st_t,
           ha='right', va='center', fontsize=8.5, color='black', bbox=box, clip_on=False, zorder=10)
ax_st.text(819 / W, stoch_last_label, '- ' + ('%.4f' % stoch_last_label).replace('.', ',') + '  ',
           transform=st_t, ha='left', va='center', fontsize=8.5, color='black', bbox=box,
           clip_on=False, zorder=10)
ob_t = mtransforms.blended_transform_factory(fig.transFigure, ax_obv.transData)
ax_obv.text(44 / W, 26.43, obv_last_label + ' -', transform=ob_t, ha='right', va='center',
            fontsize=8.5, color='black', bbox=box, clip_on=False, zorder=10)
ax_obv.text(819 / W, 26.43, '- ' + obv_last_label, transform=ob_t, ha='left', va='center',
            fontsize=8.5, color='black', bbox=box, clip_on=False, zorder=10)

fig.savefig('out.png', dpi=100, facecolor=bg)
